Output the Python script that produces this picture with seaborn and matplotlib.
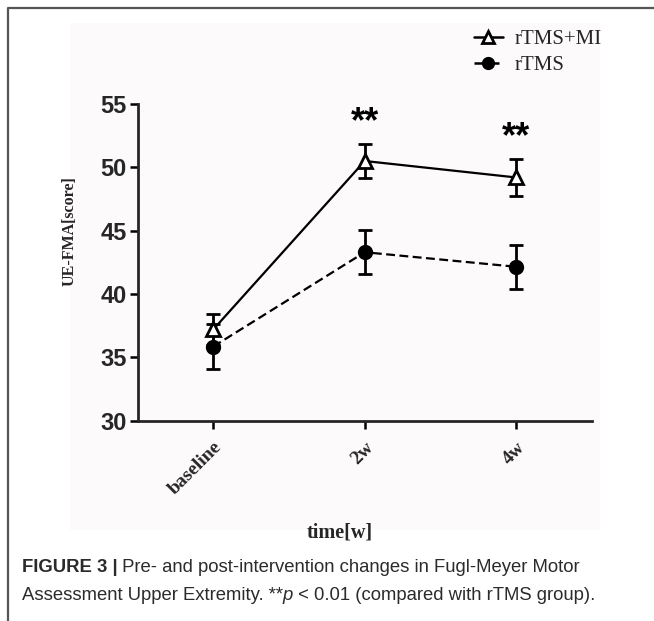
import pandas as pd
import numpy as np
import seaborn as sns
import matplotlib.pyplot as plt
from matplotlib.patches import Rectangle
from matplotlib.lines import Line2D

# values
times = ["baseline", "2w", "4w"]
groups = ["rTMS+MI", "rTMS"]
mean_mi = [37.2, 50.5, 49.2]
sem_mi = [1.2, 1.35, 1.45]
mean_tms = [35.85, 43.3, 42.15]
sem_tms = [1.8, 1.75, 1.75]
star_times = ["2w", "4w"]

data = pd.DataFrame({
    "time": times * 2,
    "group": [groups[0]] * 3 + [groups[1]] * 3,
    "score": mean_mi + mean_tms,
    "sem": sem_mi + sem_tms,
})

sns.set_style("ticks")
plt.rcParams["font.family"] = ["Liberation Serif", "DejaVu Sans"]

fig = plt.figure(figsize=(6.54, 6.21), dpi=100)
W, H = 654, 621

# light panel behind the chart and the outer frame
fig.patches.append(Rectangle((70 / W, 1 - 530 / H), 530 / W, 507 / H,
                             transform=fig.transFigure, facecolor="#fcfafa",
                             edgecolor="none", zorder=-5))
fig.add_artist(Line2D([7.5 / W, 7.5 / W, 1], [0, 1 - 8 / H, 1 - 8 / H],
                      transform=fig.transFigure, color="#555555", lw=1.6))

ax = fig.add_axes([137.5 / W, 200.3 / H, 454.5 / W, 316.7 / H])
ax.set_facecolor("none")

_ = sns.lineplot(data=data, x="time", y="score", hue="group", style="group",
                 hue_order=groups, style_order=groups,
                 palette=["black", "black"],
                 markers={"rTMS+MI": "^", "rTMS": "o"},
                 dashes={"rTMS+MI": "", "rTMS": (4, 2)},
                 linewidth=1.6, markersize=9.5, markeredgewidth=2,
                 ax=ax, legend=False)

lines = ax.get_lines()
lines[0].set_markerfacecolor("white")
lines[0].set_markeredgecolor("black")
lines[0].set_zorder(4)
lines[1].set_markerfacecolor("black")
lines[1].set_markeredgecolor("black")
lines[1].set_markersize(9)
lines[1].set_zorder(3)

ax.errorbar(times, mean_tms, yerr=sem_tms, fmt="none", ecolor="black",
            elinewidth=2, capsize=5, capthick=2, zorder=2)
ax.errorbar(times, mean_mi, yerr=sem_mi, fmt="none", ecolor="black",
            elinewidth=2, capsize=5, capthick=2, zorder=3)

# significance stars
for t in star_times:
    i = times.index(t)
    ax.text(t, mean_mi[i] + sem_mi[i] + 1.7, "**", ha="center", va="center",
            fontsize=26, weight="bold", family="Liberation Sans", color="black")

ax.set_xlim(-0.5, 2.5)
ax.set_ylim(30, 55)
ax.set_yticks([30, 35, 40, 45, 50, 55])
sns.despine(ax=ax)
for s in ["left", "bottom"]:
    ax.spines[s].set_linewidth(2)
ax.tick_params(axis="both", width=1.8, length=6, pad=2, color="black")

for lab in ax.get_yticklabels():
    lab.set_family("Liberation Sans")
    lab.set_weight("bold")
    lab.set_fontsize(17)
ax.set_xticks(range(3))
ax.set_xticklabels(times, rotation=45, ha="right", va="top",
                   rotation_mode="anchor", fontsize=14, weight="bold")
ax.tick_params(axis="x", pad=7)

ax.set_xlabel("time[w]", fontsize=14.5, weight="bold")
ax.set_ylabel("UE-FMA[score]", fontsize=11.5, weight="bold")
ax.xaxis.set_label_coords(0.445, -0.323)
ax.yaxis.set_label_coords(-0.131, 0.60)

leg_mi = Line2D([], [], color="black", lw=1.8, marker="^", markersize=9,
                markerfacecolor="white", markeredgewidth=2)
leg_tms = Line2D([], [], color="black", lw=1.8, ls=(0, (4, 2)), marker="o",
                 markersize=8.5, markerfacecolor="black")
fig.legend(handles=[leg_mi, leg_tms], labels=groups,
           loc="upper left", bbox_to_anchor=(464 / W, 1 - 19 / H),
           frameon=False, fontsize=15, handlelength=1.35, handletextpad=0.6,
           labelspacing=0.3, borderpad=0, numpoints=1)

# caption
renderer = fig.canvas.get_renderer()
cap_col = "#2b2b2b"
cap = dict(fontsize=13.3, family="Liberation Sans", color=cap_col, va="baseline")
y1 = 1 - 572 / H
y2 = 1 - 600 / H
t = fig.text(21.7 / W, y1, "FIGURE 3 |", weight="bold", **cap)
x = t.get_window_extent(renderer).x1
fig.text(x / W, y1, " Pre- and post-intervention changes in Fugl-Meyer Motor", **cap)
t = fig.text(21.7 / W, y2, "Assessment Upper Extremity. **", **cap)
x = t.get_window_extent(renderer).x1
t = fig.text(x / W, y2, "p", style="italic", **cap)
x = t.get_window_extent(renderer).x1
fig.text(x / W, y2, " < 0.01 (compared with rTMS group).", **cap)

plt.savefig("out.png", dpi=100)
plt.close()
